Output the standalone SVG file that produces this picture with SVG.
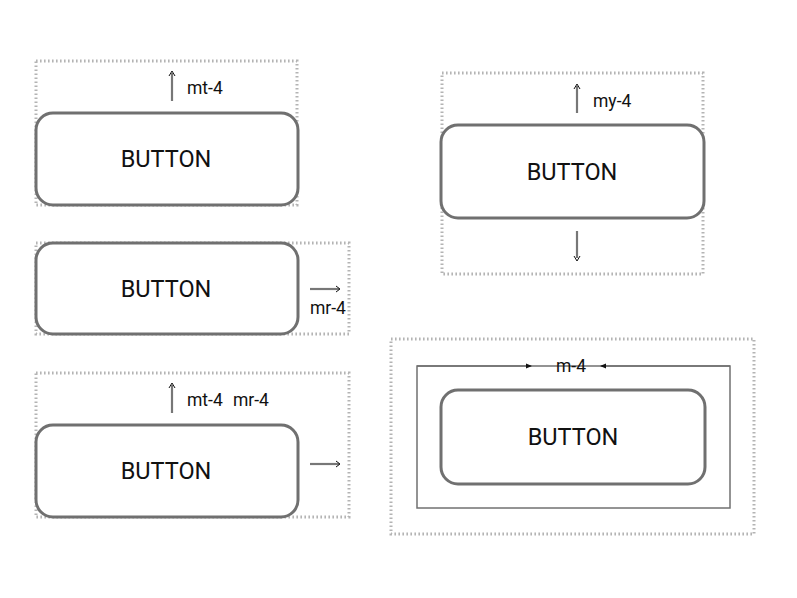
<svg xmlns="http://www.w3.org/2000/svg" width="797" height="598" viewBox="0 0 797 598">
<style>
.dot{fill:none;stroke:#b4b4b4;stroke-width:3;stroke-dasharray:1.6 2.4}
.btn{fill:#fff;stroke:#707070;stroke-width:3}
.bt{font-family:Roboto,"Liberation Sans",sans-serif;font-size:23.5px;fill:#111;text-anchor:middle}
.lb{font-family:Roboto,"Liberation Sans",sans-serif;font-size:17.5px;fill:#111}
.sh{stroke:#777;stroke-width:2.2;fill:none}
.hd{stroke:#111;stroke-width:1;fill:none}
.thin{stroke:#707070;stroke-width:1.5;fill:none}
</style>
<defs>
<marker id="tri" viewBox="0 0 6 6" refX="5" refY="3" markerWidth="6" markerHeight="6" markerUnits="userSpaceOnUse" orient="auto">
<path d="M0,0.5 L6,3 L0,5.5 Z" fill="#111"/>
</marker>
</defs>
<g id="frames">
<rect class="dot" x="36" y="61" width="261" height="144"/>
<rect class="dot" x="36" y="243" width="313" height="91"/>
<rect class="dot" x="36" y="373" width="313" height="144"/>
<rect class="dot" x="442" y="73" width="261" height="201"/>
<rect class="dot" x="391" y="339" width="363" height="195"/>
</g>
<g id="node-mt4">
<rect class="btn" x="36" y="113" width="262" height="92" rx="17"/>
<text class="bt" x="166" y="167">BUTTON</text>
<text class="lb" x="187" y="94">mt-4</text>
</g>
<g id="node-mr4">
<rect class="btn" x="36" y="243" width="262" height="91" rx="17"/>
<text class="bt" x="166" y="297">BUTTON</text>
<text class="lb" x="310" y="314">mr-4</text>
</g>
<g id="node-mt4-mr4">
<rect class="btn" x="36" y="425" width="262" height="92" rx="17"/>
<text class="bt" x="166" y="479">BUTTON</text>
<text class="lb" x="187" y="406">mt-4</text>
<text class="lb" x="233" y="406">mr-4</text>
</g>
<g id="node-my4">
<rect class="btn" x="441" y="125" width="263" height="93" rx="17"/>
<text class="bt" x="572" y="180">BUTTON</text>
<text class="lb" x="593" y="107">my-4</text>
</g>
<g id="node-m4">
<rect class="thin" x="417" y="366" width="313" height="142"/>
<rect class="btn" x="441" y="390" width="264" height="94" rx="17"/>
<text class="bt" x="573" y="445">BUTTON</text>
<text class="lb" x="571" y="372" text-anchor="middle">m-4</text>
</g>
<g id="connectors">
<line class="sh" x1="172" y1="101" x2="172" y2="73"/>
<path class="hd" d="M169,76 L172,71 L175,76"/>
<line class="sh" x1="310" y1="289" x2="339" y2="289"/>
<path class="hd" d="M336,286 L340,289 L336,292"/>
<line class="sh" x1="172" y1="413" x2="172" y2="385"/>
<path class="hd" d="M169,388 L172,383 L175,388"/>
<line class="sh" x1="310" y1="464" x2="339" y2="464"/>
<path class="hd" d="M336,461 L340,464 L336,467"/>
<line class="sh" x1="577" y1="113" x2="577" y2="86"/>
<path class="hd" d="M574,89 L577,84 L580,89"/>
<line class="sh" x1="577" y1="231" x2="577" y2="258"/>
<path class="hd" d="M574,256 L577,261 L580,256"/>
<path class="thin" d="M417,366 L531,366" marker-end="url(#tri)"/>
<path class="thin" d="M730,366 L601,366" marker-end="url(#tri)"/>
</g>
</svg>
